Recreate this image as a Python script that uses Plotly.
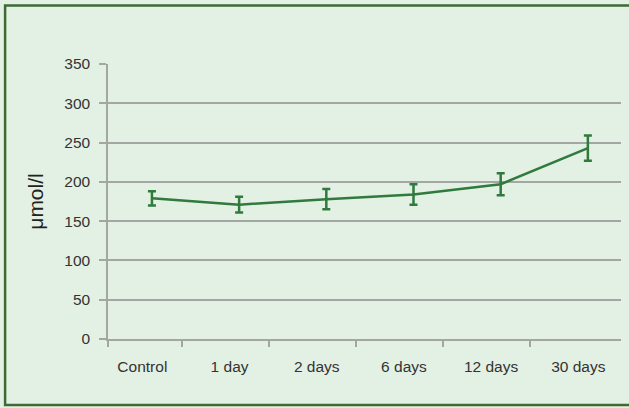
import plotly.graph_objects as go

# Plasma concentration over time (mean ± error)
categories = ["Control", "1 day", "2 days", "6 days", "12 days", "30 days"]
values = [179, 171, 178, 184, 197, 243]
errors = [9, 10, 13, 13, 14, 16]
y_ticks = [0, 50, 100, 150, 200, 250, 300, 350]

W, H = 629, 408
L, R, T, B = 107.5, 8, 64, 69
pw, ph = W - L - R, H - T - B

bg = "#e3f0e4"
green = "#2f7a3c"
grid = "#a3a6a3"
text = "#333333"

idx = list(range(len(categories)))

fig = go.Figure(
    go.Scatter(
        x=idx,
        y=values,
        mode="lines",
        line=dict(color=green, width=2.5),
        error_y=dict(type="data", array=errors, visible=True,
                     color=green, thickness=2.5, width=4),
        showlegend=False,
        hoverinfo="skip",
    )
)

fig.update_layout(
    width=W,
    height=H,
    margin=dict(l=L, r=R, t=T, b=B, pad=0),
    paper_bgcolor=bg,
    plot_bgcolor=bg,
    font=dict(family="Liberation Sans, Arial, sans-serif", size=15.5, color=text),
)

fig.update_xaxes(
    range=[-0.504, 5.38],
    tickmode="array",
    tickvals=[i - 0.11 for i in idx],
    ticktext=categories,
    ticks="",
    ticklabelstandoff=13,
    showgrid=False,
    zeroline=False,
    showline=True,
    linecolor=grid,
    linewidth=1.5,
    minor=dict(
        tickmode="array",
        tickvals=[-0.504] + [i + 0.34 for i in idx[:-1]],
        ticks="outside",
        ticklen=6,
        tickwidth=1.5,
        tickcolor=grid,
        showgrid=False,
    ),
)

fig.update_yaxes(
    range=[0, 350],
    tickmode="array",
    tickvals=y_ticks,
    ticks="outside",
    ticklen=7,
    tickwidth=1.5,
    tickcolor=grid,
    ticklabelstandoff=6,
    showgrid=True,
    gridcolor=grid,
    gridwidth=1.5,
    zeroline=False,
    showline=True,
    linecolor=grid,
    linewidth=1.5,
    title=dict(text="μmol/l", font=dict(size=21, color="#222222"), standoff=15),
)

# dark green frame around the whole panel
def px_x(p):
    return (p - L) / pw

def px_y(p):
    return 1 - (p - T) / ph

fig.add_shape(
    type="rect",
    xref="paper", yref="paper",
    x0=px_x(4.5), x1=px_x(640), y0=px_y(405), y1=px_y(5.5),
    line=dict(color="#3d6b34", width=2.5),
    fillcolor="rgba(0,0,0,0)",
    layer="above",
)

fig.write_html("out.html")
